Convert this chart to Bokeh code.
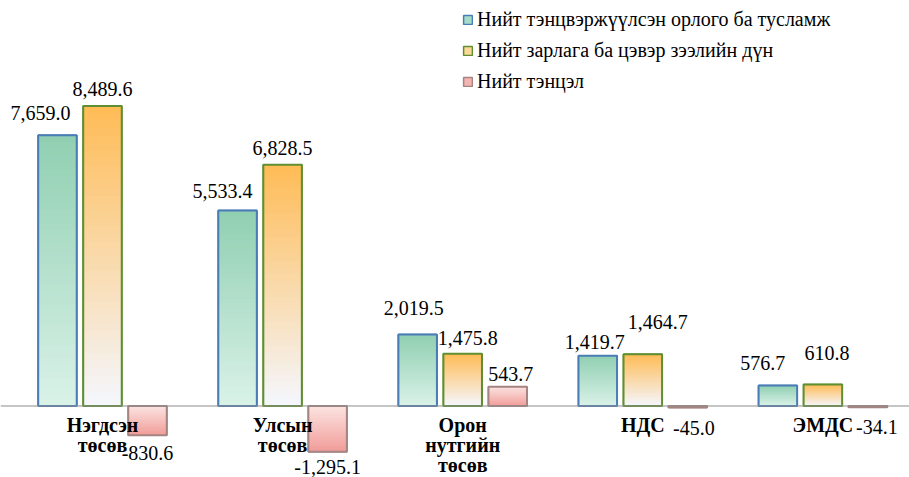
import numpy as np
from bokeh.plotting import figure
from bokeh.models import ColumnDataSource, Range1d, Span, Legend, LegendItem
from bokeh.core.properties import value
from bokeh.embed import file_html
from bokeh.resources import INLINE

# ---------------- data ----------------
categories = ["Нэгдсэн төсөв", "Улсын төсөв", "Орон нутгийн төсөв", "НДС", "ЭМДС"]
revenue = [7659.0, 5533.4, 2019.5, 1419.7, 576.7]
expenditure = [8489.6, 6828.5, 1475.8, 1464.7, 610.8]
balance = [-830.6, -1295.1, 543.7, -45.0, -34.1]
series_names = ["Нийт тэнцвэржүүлсэн орлого ба тусламж",
                "Нийт зарлага ба цэвэр зээлийн дүн",
                "Нийт тэнцэл"]

# ---------------- layout / style ----------------
W, H = 909, 477
FONT = "Liberation Serif"
BAR_W = 0.214
styles = [
    dict(offset=-0.25, top="#90cfb2", bottom="#daf2e8", line="#4a7db5",
         legend="#a8dcc8"),
    dict(offset=0.0, top="#ffbb55", bottom="#f4f7fe", line="#5f8f30",
         legend="#fcd998"),
    dict(offset=0.25, top="#fbe4e2", bottom="#f19c98", line="#a58482",
         legend="#f4b4b0"),
]
# label nudges in screen px (dx, dy) per series / category
label_dx = [[-17, -15, -4, -3, -15],
            [0, 0, 5, 15, 4],
            [0, 0, 3, 6, 9]]
label_dy = [[-22, -19, -27, -14, -23],
            [-17, -17, -16, -32, -31],
            [18, 15, -13, 20, 20]]

p = figure(width=W, height=H, output_backend="svg", toolbar_location=None,
           x_range=Range1d(-0.5663, 4.4809), y_range=Range1d(-2023, 11472),
           min_border=0, outline_line_color=None,
           x_axis_location=None, y_axis_location=None)
p.grid.visible = False
p.background_fill_color = "white"
p.border_fill_color = "white"


def hex2rgb(h):
    h = h.lstrip("#")
    return np.array([int(h[i:i + 2], 16) for i in (0, 2, 4)], dtype=float)


def rgb2hex(c):
    return "#%02x%02x%02x" % tuple(int(round(v)) for v in c)


N = 40
all_series = [revenue, expenditure, balance]
legend_items = []
for s_idx, (vals, st) in enumerate(zip(all_series, styles)):
    bar_x = [i + st["offset"] for i in range(len(vals))]
    # base bar (also the legend glyph)
    base = p.vbar(x=bar_x, bottom=0, top=vals, width=BAR_W,
                  fill_color=st["legend"], line_color=st["line"], line_width=1.5)
    ctop, cbot = hex2rgb(st["top"]), hex2rgb(st["bottom"])
    xs, bots, tops, cols = [], [], [], []
    for i, v in enumerate(vals):
        lo, hi = min(0.0, v), max(0.0, v)
        step = (hi - lo) / N
        for k in range(N):
            b = lo + step * k
            t = min(hi, lo + step * (k + 2))  # overlap to hide seams
            f = 1.0 - (k + 0.5) / N  # 0 at screen top, 1 at screen bottom
            xs.append(i + st["offset"])
            bots.append(b)
            tops.append(t)
            cols.append(rgb2hex(ctop + (cbot - ctop) * f))
    p.vbar(x=xs, bottom=bots, top=tops, width=BAR_W, fill_color=cols,
           line_color=None)
    p.vbar(x=bar_x, bottom=0, top=vals, width=BAR_W, fill_alpha=0,
           line_color=st["line"], line_width=2)
    legend_items.append(LegendItem(label=series_names[s_idx], renderers=[base]))

p.add_layout(Span(location=0, dimension="width", line_color="#8c8c8c", line_width=1))

# value labels
for s_idx, (vals, st) in enumerate(zip(all_series, styles)):
    src = ColumnDataSource(dict(
        x=[i + st["offset"] for i in range(len(vals))],
        y=vals,
        txt=["{:,.1f}".format(v) for v in vals],
        dx=label_dx[s_idx],
        dy=label_dy[s_idx],
    ))
    p.text(x="x", y="y", text="txt", x_offset="dx", y_offset="dy", source=src,
           text_font=value(FONT), text_font_size="20px", text_align="center",
           text_baseline="middle", text_color="#000000")

# category labels
cat_src = ColumnDataSource(dict(
    x=list(range(len(categories))),
    y=[0] * len(categories),
    txt=[c.replace(" ", "\n") for c in categories],
))
p.text(x="x", y="y", text="txt", source=cat_src, y_offset=8,
       text_font=value(FONT), text_font_size="20px", text_font_style="bold",
       text_align="center", text_baseline="top", text_line_height=0.92,
       text_color="#000000")

legend = Legend(items=legend_items, location=(462, 384), orientation="vertical",
                border_line_color=None, background_fill_alpha=0, padding=0,
                margin=0, spacing=8, glyph_width=11, glyph_height=11,
                label_text_font=FONT, label_text_font_size="20px",
                label_text_color="#000000",
                label_standoff=4, label_height=23)
p.add_layout(legend)

open("out.html", "w").write(file_html(p, INLINE))
